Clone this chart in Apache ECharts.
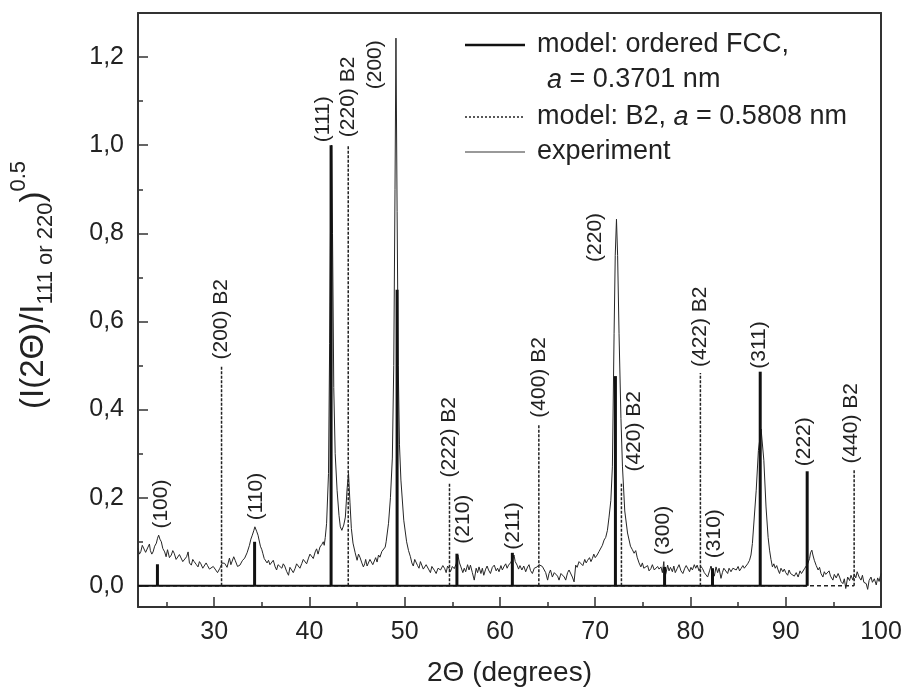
<!DOCTYPE html>
<html>
<head>
<meta charset="utf-8">
<script src="https://cdn.jsdelivr.net/npm/echarts@6/dist/echarts.min.js"></script>
<style>
html, body { margin: 0; padding: 0; background: #fff; }
#content { width: 908px; height: 695px; }
</style>
</head>
<body>
<div id="content"></div>
<script>
var experiment = [
    [22.0, 0.085], [22.15, 0.072], [22.3, 0.078], [22.45, 0.092], [22.6, 0.088], [22.8, 0.076], [23.05, 0.088], [23.2, 0.095],
    [23.3, 0.080], [23.45, 0.072], [23.58, 0.077], [23.75, 0.090], [23.93, 0.097], [24.05, 0.108], [24.17, 0.115], [24.3, 0.106],
    [24.45, 0.100], [24.6, 0.085], [24.8, 0.077], [24.95, 0.066], [25.1, 0.082], [25.3, 0.064], [25.5, 0.070], [25.65, 0.080],
    [25.8, 0.074], [26.0, 0.060], [26.2, 0.063], [26.35, 0.071], [26.5, 0.068], [26.7, 0.055], [26.9, 0.058], [27.1, 0.066],
    [27.26, 0.077], [27.4, 0.052], [27.6, 0.047], [27.75, 0.060], [27.9, 0.055], [28.1, 0.049], [28.3, 0.043], [28.45, 0.055],
    [28.6, 0.050], [28.8, 0.040], [29.0, 0.042], [29.15, 0.052], [29.3, 0.046], [29.5, 0.038], [29.7, 0.035], [29.9, 0.044],
    [30.1, 0.041], [30.35, 0.030], [30.6, 0.040], [30.85, 0.052], [31.1, 0.051], [31.35, 0.042], [31.6, 0.063], [31.75, 0.048],
    [31.9, 0.052], [32.05, 0.066], [32.2, 0.058], [32.45, 0.044], [32.7, 0.047], [32.95, 0.057], [33.2, 0.063], [33.45, 0.075],
    [33.7, 0.092], [33.85, 0.106], [34.0, 0.115], [34.15, 0.125], [34.27, 0.134], [34.45, 0.124], [34.6, 0.115], [34.85, 0.090],
    [35.0, 0.082], [35.1, 0.074], [35.25, 0.062], [35.4, 0.065], [35.55, 0.052], [35.7, 0.058], [35.85, 0.048], [36.0, 0.052],
    [36.2, 0.058], [36.4, 0.043], [36.55, 0.036], [36.7, 0.048], [36.9, 0.044], [37.1, 0.040], [37.25, 0.050], [37.4, 0.045],
    [37.6, 0.033], [37.8, 0.024], [37.95, 0.042], [38.1, 0.038], [38.3, 0.030], [38.5, 0.040], [38.65, 0.050], [38.8, 0.046],
    [39.0, 0.040], [39.2, 0.051], [39.35, 0.060], [39.5, 0.058], [39.7, 0.050], [39.9, 0.063], [40.05, 0.072], [40.2, 0.070],
    [40.4, 0.062], [40.6, 0.077], [40.75, 0.084], [40.9, 0.072], [41.0, 0.080], [41.1, 0.088], [41.3, 0.094], [41.45, 0.100],
    [41.55, 0.092], [41.66, 0.110], [41.8, 0.142], [42.0, 0.255], [42.12, 0.550], [42.25, 0.920], [42.32, 1.000], [42.42, 0.800],
    [42.55, 0.450], [42.7, 0.300], [42.9, 0.217], [43.1, 0.160], [43.24, 0.134], [43.4, 0.126], [43.6, 0.138], [43.77, 0.156],
    [43.95, 0.220], [44.1, 0.255], [44.25, 0.190], [44.4, 0.130], [44.57, 0.097], [44.8, 0.075], [45.0, 0.058], [45.15, 0.072],
    [45.3, 0.065], [45.5, 0.052], [45.66, 0.043], [45.8, 0.050], [45.9, 0.060], [46.05, 0.045], [46.2, 0.048], [46.35, 0.060],
    [46.5, 0.062], [46.65, 0.048], [46.8, 0.050], [46.95, 0.064], [47.1, 0.054], [47.25, 0.070], [47.4, 0.065], [47.6, 0.078],
    [47.8, 0.074], [47.95, 0.088], [48.05, 0.100], [48.3, 0.142], [48.5, 0.200], [48.7, 0.290], [48.85, 0.500], [48.98, 0.900],
    [49.08, 1.243], [49.2, 0.850], [49.32, 0.500], [49.45, 0.320], [49.6, 0.240], [49.9, 0.149], [50.2, 0.100], [50.4, 0.080],
    [50.6, 0.066], [50.75, 0.052], [50.9, 0.045], [51.05, 0.060], [51.2, 0.058], [51.35, 0.046], [51.5, 0.040], [51.65, 0.055],
    [51.8, 0.052], [51.95, 0.038], [52.1, 0.035], [52.25, 0.048], [52.4, 0.050], [52.55, 0.036], [52.7, 0.030], [52.85, 0.044],
    [53.0, 0.046], [53.15, 0.034], [53.3, 0.028], [53.5, 0.040], [53.76, 0.036], [54.0, 0.046], [54.2, 0.039], [54.35, 0.030],
    [54.5, 0.045], [54.65, 0.040], [54.8, 0.032], [55.0, 0.044], [55.2, 0.039], [55.4, 0.050], [55.58, 0.070], [55.75, 0.052],
    [55.9, 0.043], [56.1, 0.030], [56.25, 0.040], [56.4, 0.032], [56.6, 0.048], [56.75, 0.036], [56.9, 0.047], [57.1, 0.030],
    [57.3, 0.013], [57.5, 0.040], [57.65, 0.030], [57.8, 0.043], [58.0, 0.028], [58.15, 0.040], [58.3, 0.024], [58.5, 0.038],
    [58.65, 0.045], [58.8, 0.036], [59.0, 0.028], [59.2, 0.042], [59.4, 0.047], [59.6, 0.034], [59.75, 0.040], [59.9, 0.032],
    [60.1, 0.046], [60.25, 0.036], [60.4, 0.043], [60.6, 0.050], [60.75, 0.040], [60.9, 0.047], [61.1, 0.052], [61.3, 0.060],
    [61.47, 0.070], [61.6, 0.055], [61.8, 0.047], [61.95, 0.038], [62.1, 0.046], [62.3, 0.036], [62.5, 0.045], [62.7, 0.032],
    [62.9, 0.043], [63.05, 0.048], [63.2, 0.035], [63.4, 0.028], [63.6, 0.040], [63.75, 0.036], [63.9, 0.043], [64.1, 0.048],
    [64.3, 0.051], [64.45, 0.044], [64.6, 0.047], [64.8, 0.030], [65.0, 0.013], [65.15, 0.028], [65.3, 0.036], [65.5, 0.020],
    [65.7, 0.030], [65.9, 0.032], [66.05, 0.022], [66.2, 0.013], [66.4, 0.028], [66.6, 0.032], [66.75, 0.020], [66.9, 0.013],
    [67.1, 0.030], [67.25, 0.036], [67.4, 0.032], [67.6, 0.020], [67.78, 0.009], [67.95, 0.047], [68.1, 0.042], [68.3, 0.055],
    [68.5, 0.051], [68.7, 0.046], [68.9, 0.060], [69.05, 0.052], [69.2, 0.058], [69.4, 0.064], [69.55, 0.055], [69.7, 0.062],
    [69.85, 0.072], [70.0, 0.064], [70.2, 0.070], [70.4, 0.078], [70.6, 0.081], [70.75, 0.092], [70.93, 0.104], [71.1, 0.110],
    [71.28, 0.126], [71.45, 0.156], [71.64, 0.194], [71.8, 0.270], [71.98, 0.572], [72.1, 0.750], [72.23, 0.832], [72.35, 0.750],
    [72.5, 0.572], [72.7, 0.380], [72.86, 0.270], [73.1, 0.170], [73.39, 0.120], [73.7, 0.090], [73.9, 0.082], [74.08, 0.074],
    [74.25, 0.080], [74.4, 0.065], [74.6, 0.052], [74.79, 0.043], [74.95, 0.052], [75.1, 0.040], [75.3, 0.036], [75.5, 0.046],
    [75.65, 0.034], [75.84, 0.039], [76.0, 0.048], [76.2, 0.036], [76.4, 0.032], [76.55, 0.044], [76.7, 0.038], [76.9, 0.043],
    [77.05, 0.030], [77.2, 0.055], [77.3, 0.020], [77.42, 0.028], [77.6, 0.047], [77.75, 0.034], [77.9, 0.042], [78.1, 0.032],
    [78.25, 0.045], [78.4, 0.030], [78.6, 0.039], [78.8, 0.048], [79.0, 0.034], [79.2, 0.028], [79.4, 0.040], [79.55, 0.046],
    [79.7, 0.043], [79.9, 0.032], [80.05, 0.042], [80.2, 0.036], [80.4, 0.048], [80.55, 0.040], [80.7, 0.047], [80.9, 0.034],
    [81.1, 0.044], [81.27, 0.039], [81.45, 0.030], [81.6, 0.026], [81.8, 0.020], [82.0, 0.034], [82.15, 0.045], [82.3, 0.036],
    [82.5, 0.022], [82.68, 0.043], [82.85, 0.030], [83.0, 0.040], [83.2, 0.017], [83.35, 0.030], [83.5, 0.040], [83.7, 0.036],
    [83.9, 0.028], [84.05, 0.040], [84.25, 0.032], [84.45, 0.040], [84.6, 0.044], [84.8, 0.036], [85.0, 0.044], [85.15, 0.034],
    [85.3, 0.039], [85.5, 0.046], [85.65, 0.040], [85.8, 0.043], [86.0, 0.050], [86.2, 0.058], [86.35, 0.070], [86.5, 0.096],
    [86.9, 0.217], [87.13, 0.307], [87.41, 0.356], [87.7, 0.285], [87.93, 0.179], [88.15, 0.110], [88.3, 0.081], [88.45, 0.060],
    [88.6, 0.043], [88.75, 0.050], [88.9, 0.040], [89.05, 0.046], [89.2, 0.036], [89.35, 0.028], [89.5, 0.040], [89.7, 0.032],
    [89.85, 0.038], [90.0, 0.030], [90.2, 0.024], [90.35, 0.036], [90.5, 0.028], [90.7, 0.032], [90.9, 0.022], [91.1, 0.030],
    [91.3, 0.020], [91.5, 0.034], [91.65, 0.028], [91.8, 0.032], [92.0, 0.040], [92.15, 0.036], [92.3, 0.050], [92.5, 0.062],
    [92.6, 0.075], [92.74, 0.081], [92.85, 0.070], [93.0, 0.058], [93.2, 0.046], [93.4, 0.036], [93.55, 0.042], [93.7, 0.028],
    [93.9, 0.020], [94.05, 0.032], [94.2, 0.026], [94.4, 0.024], [94.55, 0.034], [94.7, 0.022], [94.95, 0.013], [95.1, 0.026],
    [95.3, 0.018], [95.5, 0.028], [95.65, 0.020], [95.8, 0.010], [96.0, 0.005], [96.15, 0.016], [96.3, -0.006], [96.5, 0.020],
    [96.7, 0.012], [96.85, 0.024], [97.05, 0.013], [97.2, 0.026], [97.35, 0.018], [97.5, 0.032], [97.7, 0.020], [97.9, 0.013],
    [98.05, 0.024], [98.2, 0.008], [98.45, 0.005], [98.6, -0.008], [98.75, 0.012], [98.95, 0.020], [99.1, 0.008], [99.3, 0.016],
    [99.5, 0.002], [99.65, 0.018], [99.8, 0.010], [100.0, 0.028]
];

// model: ordered FCC, a = 0.3701 nm
var fccHkl = ['(100)', '(110)', '(111)', '(200)', '(210)', '(211)', '(220)', '(300)', '(310)', '(311)', '(222)'];
var fccPos = [24.04, 34.24, 42.27, 49.2, 55.48, 61.3, 72.12, 77.28, 82.31, 87.32, 92.25];
var fccHeight = [0.049, 0.10, 1.0, 0.672, 0.073, 0.075, 0.476, 0.043, 0.040, 0.486, 0.26];

// model: B2, a = 0.5808 nm
var b2Hkl = ['(200) B2', '(220) B2', '(222) B2', '(400) B2', '(420) B2', '(422) B2', '(440) B2'];
var b2Pos = [30.77, 44.07, 54.7, 64.08, 72.75, 81.04, 97.18];
var b2Height = [0.5, 1.0, 0.232, 0.368, 0.232, 0.483, 0.264];

var xTicks = [30, 40, 50, 60, 70, 80, 90, 100];
var xMinorTicks = [25, 35, 45, 55, 65, 75, 85, 95];
var yTicks = [0, 0.2, 0.4, 0.6, 0.8, 1.0, 1.2];
var yMinorTicks = [0.1, 0.3, 0.5, 0.7, 0.9, 1.1];

var xMin = 22, xMax = 100, yMin = -0.048, yMax = 1.3;

// where the hkl labels sit: dx in px, base = value of label foot, gap = px above stick top
var labelNudge = {
    '(100)': { dx: 4, base: 0.13 },
    '(110)': { dx: 2, base: 0.149 },
    '(111)': { dx: -8, gap: 3 },
    '(200)': { dx: -22, base: 1.127 },
    '(210)': { dx: 6, gap: 10 },
    '(211)': { dx: 1, gap: 3 },
    '(220)': { dx: -20, base: 0.735 },
    '(300)': { dx: -1, gap: 12 },
    '(310)': { dx: 2, gap: 10 },
    '(311)': { dx: -1, gap: 3 },
    '(222)': { dx: -3, gap: 5 },
    '(220) B2': { dx: 0, gap: 8 },
    '(420) B2': { dx: 13, gap: 12 },
    '(440) B2': { dx: -3, gap: 6 }
};

var FONT = '"Liberation Sans", Arial, Helvetica, sans-serif';
var ink = '#222';
var frame = '#333';

function pairs(xs, ys) {
    var out = [];
    for (var i = 0; i < xs.length; i++) out.push([xs[i], ys[i]]);
    return out;
}

function stickRenderer(names, lineStyle) {
    return function (params, api) {
        var x = api.value(0), h = api.value(1);
        var p0 = api.coord([x, 0]);
        var p1 = api.coord([x, h]);
        var name = names[params.dataIndex];
        var n = labelNudge[name] || {};
        var footY = n.base != null ? api.coord([x, n.base])[1] : p1[1] - (n.gap != null ? n.gap : 6);
        return {
            type: 'group',
            children: [{
                type: 'line',
                shape: { x1: p0[0], y1: p0[1], x2: p1[0], y2: p1[1] },
                style: lineStyle
            }, {
                type: 'text',
                x: p1[0] + (n.dx || 0),
                y: footY,
                rotation: Math.PI / 2,
                style: {
                    text: name,
                    font: '21px ' + FONT,
                    fill: ink,
                    textAlign: 'left',
                    textVerticalAlign: 'middle',
                    align: 'left',
                    verticalAlign: 'middle'
                }
            }]
        };
    };
}

function fmtComma(v) {
    return v.toFixed(1).replace('.', ',');
}

var myChart = echarts.init(document.getElementById('content'), null, { renderer: 'canvas' });

var option = {
    backgroundColor: '#fff',
    animation: false,
    grid: { left: 138, right: 27, top: 13, bottom: 88, show: false },
    xAxis: [{
        type: 'value', position: 'bottom', min: xMin, max: xMax,
        axisLine: { onZero: false, lineStyle: { color: frame, width: 2 } },
        axisTick: { inside: true, length: 10, customValues: xTicks, lineStyle: { color: frame, width: 1.5 } },
        axisLabel: { customValues: xTicks, margin: 13, fontSize: 25, fontFamily: FONT, color: ink },
        splitLine: { show: false },
        name: '2\u0398 (degrees)', nameLocation: 'middle', nameGap: 52,
        nameTextStyle: { fontSize: 28, fontFamily: FONT, color: ink }
    }, {
        type: 'value', position: 'bottom', min: xMin, max: xMax,
        axisLine: { show: false, onZero: false },
        axisTick: { inside: true, length: 5, customValues: xMinorTicks, lineStyle: { color: frame, width: 1.5 } },
        axisLabel: { show: false },
        splitLine: { show: false }
    }, {
        type: 'value', position: 'top', min: xMin, max: xMax,
        axisLine: { onZero: false, lineStyle: { color: frame, width: 2 } },
        axisTick: { show: false }, axisLabel: { show: false }, splitLine: { show: false }
    }],
    yAxis: [{
        type: 'value', position: 'left', min: yMin, max: yMax,
        axisLine: { onZero: false, lineStyle: { color: frame, width: 2 } },
        axisTick: { inside: true, length: 10, customValues: yTicks, lineStyle: { color: frame, width: 1.5 } },
        axisLabel: { customValues: yTicks, margin: 14, fontSize: 25, fontFamily: FONT, color: ink, formatter: fmtComma },
        splitLine: { show: false },
        name: '{m|(I(2\u0398)/I}{s|111 or 220}{m|)}{p|0.5}',
        nameLocation: 'middle', nameRotate: 90, nameGap: 78,
        nameTextStyle: {
            color: ink, fontFamily: FONT, padding: [0, 0, 0, 50],
            rich: {
                m: { fontSize: 33, fontFamily: FONT, color: ink, lineHeight: 52, verticalAlign: 'middle' },
                s: { fontSize: 22, fontFamily: FONT, color: ink, lineHeight: 52, verticalAlign: 'bottom', padding: [0, 0, 3, 0] },
                p: { fontSize: 22, fontFamily: FONT, color: ink, lineHeight: 52, verticalAlign: 'top' }
            }
        }
    }, {
        type: 'value', position: 'left', min: yMin, max: yMax,
        axisLine: { show: false, onZero: false },
        axisTick: { inside: true, length: 5, customValues: yMinorTicks, lineStyle: { color: frame, width: 1.5 } },
        axisLabel: { show: false }, splitLine: { show: false }
    }, {
        type: 'value', position: 'right', min: yMin, max: yMax,
        axisLine: { onZero: false, lineStyle: { color: frame, width: 2 } },
        axisTick: { show: false }, axisLabel: { show: false }, splitLine: { show: false }
    }],
    series: [{
        name: 'experiment',
        type: 'line',
        data: experiment,
        showSymbol: false,
        symbol: 'none',
        lineStyle: { color: '#262626', width: 1 },
        z: 2
    }, {
        name: 'B2 baseline',
        type: 'line',
        data: [[xMin, 0], [Math.max.apply(null, b2Pos), 0]],
        symbol: 'none',
        lineStyle: { color: '#222', width: 1.5, type: [4, 3] },
        z: 3
    }, {
        name: 'FCC baseline',
        type: 'line',
        data: [[xMin, 0], [Math.max.apply(null, fccPos), 0]],
        symbol: 'none',
        lineStyle: { color: '#111', width: 2 },
        z: 3
    }, {
        name: 'model: B2',
        type: 'custom',
        data: pairs(b2Pos, b2Height),
        renderItem: stickRenderer(b2Hkl, { stroke: '#222', lineWidth: 1.5, lineDash: [3, 1.5] }),
        clip: false,
        z: 4
    }, {
        name: 'model: ordered FCC',
        type: 'custom',
        data: pairs(fccPos, fccHeight),
        renderItem: stickRenderer(fccHkl, { stroke: '#111', lineWidth: 3 }),
        clip: false,
        z: 5
    }],
    graphic: [{
        type: 'line', shape: { x1: 465, y1: 45, x2: 525, y2: 45 },
        style: { stroke: '#111', lineWidth: 2.5 }
    }, {
        type: 'text', x: 537, y: 45,
        style: { text: 'model: ordered FCC,', font: '27px ' + FONT, fill: ink, textVerticalAlign: 'middle', verticalAlign: 'middle' }
    }, {
        type: 'text', x: 547, y: 80,
        style: {
            text: '{i|a} = 0.3701 nm', font: '27px ' + FONT, fill: ink, textVerticalAlign: 'middle', verticalAlign: 'middle',
            rich: { i: { fontStyle: 'italic', fontSize: 27, fontFamily: FONT, fill: ink } }
        }
    }, {
        type: 'line', shape: { x1: 465, y1: 117, x2: 525, y2: 117 },
        style: { stroke: '#222', lineWidth: 1.5, lineDash: [2, 2] }
    }, {
        type: 'text', x: 537, y: 117,
        style: {
            text: 'model: B2, {i|a} = 0.5808 nm', font: '27px ' + FONT, fill: ink, textVerticalAlign: 'middle', verticalAlign: 'middle',
            rich: { i: { fontStyle: 'italic', fontSize: 27, fontFamily: FONT, fill: ink } }
        }
    }, {
        type: 'line', shape: { x1: 465, y1: 152, x2: 525, y2: 152 },
        style: { stroke: '#777', lineWidth: 1.5 }
    }, {
        type: 'text', x: 537, y: 152,
        style: { text: 'experiment', font: '27px ' + FONT, fill: ink, textVerticalAlign: 'middle', verticalAlign: 'middle' }
    }]
};

myChart.setOption(option);
</script>
</body>
</html>
